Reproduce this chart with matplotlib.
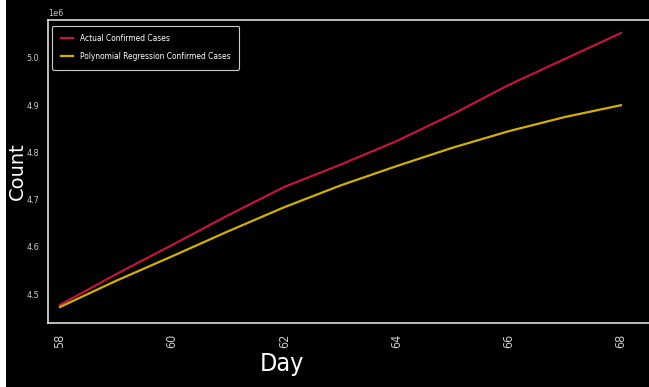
import numpy as np
import matplotlib
matplotlib.use("Agg")
from matplotlib import pyplot as plt
from matplotlib.patches import Rectangle

# days and case counts (millions)
days = [58, 59, 60, 61, 62, 63, 64, 65, 66, 67, 68]
actual_cases = [4.477, 4.542, 4.604, 4.667, 4.727, 4.774, 4.824, 4.881, 4.943, 4.998, 5.053]
poly_cases = [4.4725, 4.528, 4.580, 4.633, 4.684, 4.730, 4.771, 4.810, 4.845, 4.875, 4.900]

cond = dict(family="DejaVu Sans", stretch="condensed")

fig = plt.figure(figsize=(6.49, 3.87), dpi=100)
fig.patch.set_facecolor("white")
fig.patches.append(Rectangle((6 / 649, 0), 1, 1, transform=fig.transFigure,
                             facecolor="black", edgecolor="none", zorder=-1))

ax = fig.add_axes([48 / 649, 1 - 323 / 387, 1 - 48 / 649, (323 - 20) / 387])
ax.set_facecolor("black")

ax.plot(days, np.array(actual_cases) * 1e6, color="#c0153c", lw=1.6, label="Actual Confirmed Cases")
ax.plot(days, np.array(poly_cases) * 1e6, color="#d2b000", lw=1.6,
        label="Polynomial Regression Confirmed Cases")

ax.set_xlim(57.786, 68.5)
ax.set_ylim(4.4386e6, 5.0805e6)
ax.set_xticks([58, 60, 62, 64, 66, 68])
ax.set_yticks([4.5e6, 4.6e6, 4.7e6, 4.8e6, 4.9e6, 5.0e6])

for s in ["left", "bottom", "top"]:
    ax.spines[s].set_color("#dddddd")
    ax.spines[s].set_linewidth(1.2)
ax.spines["right"].set_visible(False)

ax.tick_params(axis="y", length=0, colors="#cccccc", labelsize=6.5, pad=6.5)
ax.tick_params(axis="x", length=0, colors="#cccccc", labelsize=9, pad=8)
for lab in ax.get_xticklabels():
    lab.set_rotation(90)
    lab.set(**cond)
for lab in ax.get_yticklabels():
    lab.set(**cond)
off = ax.yaxis.get_offset_text()
off.set_color("#cccccc")
off.set_fontsize(6.5)
off.set(**cond)

ax.set_xlabel("Day", color="white", fontsize=18, **cond)
ax.xaxis.set_label_coords((282 - 48) / 601, -29 / 303)
ax.set_ylabel("Count", color="white", fontsize=14, family="DejaVu Sans")
ax.yaxis.set_label_coords(-21 / 601, 0.5)

leg = ax.legend(loc="upper left", facecolor="black", edgecolor="#cccccc",
                labelcolor="white", prop={"family": "DejaVu Sans", "stretch": "condensed", "size": 6},
                framealpha=1, handlelength=1.5, labelspacing=1.1, borderpad=1.0,
                bbox_to_anchor=(0.0, 0.995))
leg.get_frame().set_linewidth(0.8)

fig.savefig("out.png", dpi=100, facecolor=fig.get_facecolor())
